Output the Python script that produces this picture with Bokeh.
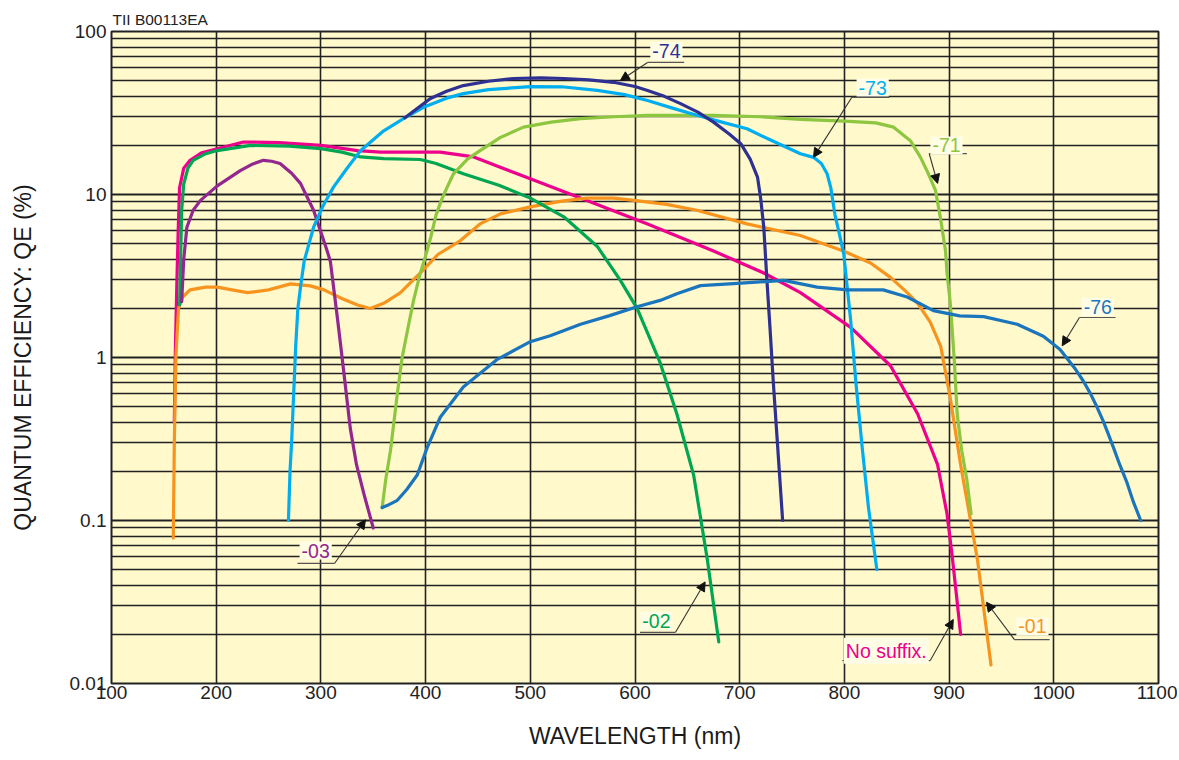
from bokeh.plotting import figure
from bokeh.models import (Range1d, FixedTicker, NumeralTickFormatter, Label, Arrow,
                          NormalHead, Title)
from bokeh.embed import file_html
from bokeh.resources import INLINE

FONT = "Liberation Sans"

# ---------------- data (wavelength nm, QE %) ----------------
nosuffix_wl = [160, 161, 162.5, 163.7, 165, 169, 175, 186, 201, 226, 260, 300, 335, 357, 380, 414,
               446, 470, 500, 554, 612, 675, 723, 758, 806, 844, 870, 889, 898, 903, 907, 911]
nosuffix_qe = [0.4, 1.1, 3, 6, 11, 14.5, 16.2, 18, 19.1, 21, 20.8, 20, 18.6, 18.2, 18.2, 18.2,
               17.0, 14.8, 12.5, 9.2, 6.6, 4.5, 3.3, 2.5, 1.53, 0.89, 0.45, 0.22, 0.11, 0.06, 0.035, 0.02]

s01_wl = [159, 160, 161.5, 164, 168, 175, 190, 201, 215, 230, 250, 271, 290, 303, 320, 335, 347,
          360, 376, 395, 412, 433, 452, 471.5, 500, 530, 554, 580, 599, 630, 659, 707, 758, 799,
          825, 844, 860, 870, 882, 892, 901, 911, 927, 940]
s01_qe = [0.078, 0.3, 1.0, 2.0, 2.35, 2.6, 2.7, 2.7, 2.6, 2.5, 2.6, 2.83, 2.75, 2.6, 2.3, 2.1, 2.0,
          2.15, 2.5, 3.3, 4.3, 5.2, 6.6, 7.6, 8.4, 9.1, 9.5, 9.5, 9.2, 8.7, 8.0, 6.6, 5.6, 4.5,
          3.8, 3.1, 2.5, 2.15, 1.65, 1.17, 0.57, 0.22, 0.058, 0.013]

s02_wl = [165, 166, 167, 169, 173, 178, 190, 201, 233, 270, 300, 320, 338, 360, 395, 410, 436,
          470, 500, 532, 564, 586, 602, 624, 640, 656, 669, 680]
s02_qe = [2.1, 4, 8, 11.6, 14.5, 16.2, 17.8, 18.6, 20, 19.8, 19.1, 18.2, 17, 16.6, 16.4, 15.5, 13.4,
          11.4, 9.5, 7.3, 4.8, 2.97, 2.0, 0.93, 0.45, 0.19, 0.058, 0.018]

s03_wl = [167, 169, 172, 178, 185, 201, 223, 235, 245, 253, 261, 272, 280.5, 293, 306, 309, 316,
          322, 328, 334, 341, 350]
s03_qe = [2.2, 4, 6.3, 8, 9.2, 11.3, 14, 15.4, 16.2, 16.0, 15.5, 13.5, 11.7, 8, 4.5, 3.9, 1.7,
          0.8, 0.37, 0.22, 0.146, 0.09]

s71_wl = [358.5, 362, 366.5, 373, 377.6, 383, 388.5, 395, 400, 405, 410, 415, 420.6, 426.6, 440,
          452, 471.5, 493.5, 520, 548, 580, 611.7, 650, 675, 720, 758, 800, 830, 847, 863, 872.7,
          880, 887, 892, 896.6, 898, 901, 903, 905, 907.7, 912, 917, 921]
s71_qe = [0.12, 0.18, 0.27, 0.6, 1.0, 1.5, 2.24, 3.3, 4.2, 5.5, 7.5, 9.2, 11.1, 13.4, 16.5,
          18.6, 22.4, 25.9, 27.8, 29.2, 30, 30.6, 30.6, 30.6, 30, 28.9, 28.2, 27.5, 25.9, 21.4, 16.9,
          13.5, 10.6, 7, 4.5, 3.3, 2.2, 1.46, 0.95, 0.45, 0.27, 0.177, 0.11]

s73_wl = [269, 270.5, 272, 274, 276, 278, 280.5, 284, 293, 302, 312, 325, 338, 360, 380, 398, 420,
          436, 460, 500, 530, 564, 590, 612, 635, 659, 683, 707, 730, 758, 770.5, 778, 783.5, 787,
          791, 795, 799.4, 806, 811, 817, 823, 831]
s73_qe = [0.1, 0.2, 0.3, 0.6, 1.2, 2.0, 2.7, 3.9, 6.3, 8.5, 11.1, 14.5, 18.6, 24.6, 29.5, 34.3, 39,
          41.6, 44, 45.9, 45.8, 43.5, 41, 37.7, 34, 30.6, 27.8, 25.3, 21.5, 17.8, 16.9, 15.5, 13.4, 11,
          7.5, 5.8, 4.3, 1.69, 0.7, 0.28, 0.12, 0.05]

s74_wl = [380, 390, 404.6, 420, 436, 460, 484, 510, 532, 556, 579.5, 600, 612, 628, 643.5, 660, 675,
          690, 701, 710, 717, 720, 723, 726, 729, 732, 736, 741]
s74_qe = [29.5, 33, 38.8, 43, 46.6, 49.5, 51.5, 52, 51.5, 50.5, 48.8, 46, 43.5, 40, 36.1, 32, 27.8,
          23.5, 20.5, 16.5, 12.8, 9.5, 6.3, 2.97, 1.5, 0.72, 0.3, 0.1]

s76_wl = [358.5, 365, 373, 382, 392, 401.5, 414, 436, 468, 500, 519, 548, 575, 602, 624, 640,
          662.5, 694, 742, 774, 803, 837, 860, 885, 910, 933, 965, 990, 1006, 1020, 1028, 1035,
          1041, 1047, 1052, 1057, 1063, 1070, 1076, 1083]
s76_qe = [0.12, 0.125, 0.133, 0.155, 0.19, 0.28, 0.43, 0.66, 0.97, 1.25, 1.36, 1.6, 1.8, 2.05,
          2.24, 2.46, 2.76, 2.84, 2.97, 2.7, 2.6, 2.6, 2.35, 1.94, 1.8, 1.78, 1.6, 1.35, 1.12, 0.86,
          0.72, 0.6, 0.5, 0.41, 0.34, 0.28, 0.22, 0.17, 0.13, 0.1]

x_ticks = [100, 200, 300, 400, 500, 600, 700, 800, 900, 1000, 1100]
y_ticks = [0.01, 0.1, 1, 10, 100]
y_minor = [m * d for d in (0.01, 0.1, 1, 10) for m in range(2, 10)]

series = [
    ("No suffix.", nosuffix_wl, nosuffix_qe, "#EC008C"),
    ("-01", s01_wl, s01_qe, "#F7941D"),
    ("-02", s02_wl, s02_qe, "#00A651"),
    ("-03", s03_wl, s03_qe, "#92278F"),
    ("-71", s71_wl, s71_qe, "#8DC63F"),
    ("-73", s73_wl, s73_qe, "#00AEEF"),
    ("-74", s74_wl, s74_qe, "#2E3192"),
    ("-76", s76_wl, s76_qe, "#1B75BC"),
]

# ---------------- figure ----------------
p = figure(width=1177, height=759, x_range=Range1d(100, 1100), y_range=Range1d(0.01, 100),
           y_axis_type="log", output_backend="svg", toolbar_location=None,
           min_border_left=111, min_border_right=19, min_border_top=31, min_border_bottom=76,
           background_fill_color="#FFF9CC", border_fill_color="white")
p.outline_line_color = "#222222"
p.outline_line_width = 2

p.title = Title(text="TII B00113EA", align="left", text_font=FONT, text_font_size="15.5px",
                text_font_style="normal", text_color="#222222", standoff=7, offset=1)

p.xaxis.ticker = FixedTicker(ticks=x_ticks)
p.yaxis.ticker = FixedTicker(ticks=y_ticks, minor_ticks=y_minor)
p.yaxis.formatter = NumeralTickFormatter(format="0.[00]")

for ax in (p.xaxis[0], p.yaxis[0]):
    ax.axis_line_color = None
    ax.major_tick_line_color = None
    ax.minor_tick_line_color = None
    ax.major_tick_out = 0
    ax.minor_tick_out = 0
    ax.major_label_text_font = FONT
    ax.major_label_text_font_size = "19px"
    ax.major_label_text_color = "#222222"
    ax.axis_label_text_font = FONT
    ax.axis_label_text_font_size = "23px"
    ax.axis_label_text_font_style = "normal"
    ax.axis_label_text_color = "#1a1a1a"

p.xaxis.axis_label = "WAVELENGTH (nm)"
p.yaxis.axis_label = "QUANTUM EFFICIENCY: QE (%)"
p.xaxis.major_label_standoff = 2
p.yaxis.major_label_standoff = 5
p.xaxis.axis_label_standoff = 21
p.yaxis.axis_label_standoff = 31

p.xgrid.grid_line_color = "#222222"
p.xgrid.grid_line_width = 1.6
p.ygrid.grid_line_color = "#222222"
p.ygrid.grid_line_width = 2
p.ygrid.minor_grid_line_color = "#222222"
p.ygrid.minor_grid_line_width = 1.5

for name, xs, ys, col in series:
    p.line(xs, ys, line_color=col, line_width=3.2, line_join="round", line_cap="round")

# ---------------- callouts ----------------
callouts = [
    # text, color, text_x, text_y, underline x0, x1, underline y, leader start x, tip x, tip y
    ("-74", "#2E3192", 630, 76, 612, 647, 64.6, 612, 586, 50),
    ("-73", "#00AEEF", 827, 45.3, 807, 843, 39.4, 807, 770.5, 16.9),
    ("-71", "#8DC63F", 897.5, 20, 881, 917, 17.8, 881, 889, 11.7),
    ("-76", "#1B75BC", 1042, 2.04, 1024.5, 1059, 1.76, 1024.5, 1008, 1.18),
    ("-03", "#92278F", 295, 0.0654, 277.6, 313, 0.0545, 313, 342.6, 0.101),
    ("-02", "#00A651", 620.5, 0.0243, 604.8, 638.7, 0.0206, 638.7, 667, 0.042),
    ("No suffix.", "#EC008C", 840, 0.0159, 798, 882, 0.01383, 882, 904, 0.0247),
    ("-01", "#F7941D", 979.6, 0.0224, 962.4, 996, 0.0186, 962.4, 935.7, 0.0315),
]
for txt, col, tx, ty, ux0, ux1, uy, lx, ax_, ay in callouts:
    p.add_layout(Label(x=tx, y=ty, text=txt, text_align="center", text_baseline="middle",
                       text_color=col, text_font=FONT, text_font_size="19.5px",
                       background_fill_color="#FFFDE6", padding=2))
    p.line([ux0, ux1], [uy, uy], line_color="#555555", line_width=1.2)
    p.add_layout(Arrow(end=NormalHead(size=9, fill_color="#111111", line_color="#111111"),
                       x_start=lx, y_start=uy, x_end=ax_, y_end=ay,
                       line_color="#333333", line_width=1.1))

open("out.html", "w").write(file_html(p, INLINE))
